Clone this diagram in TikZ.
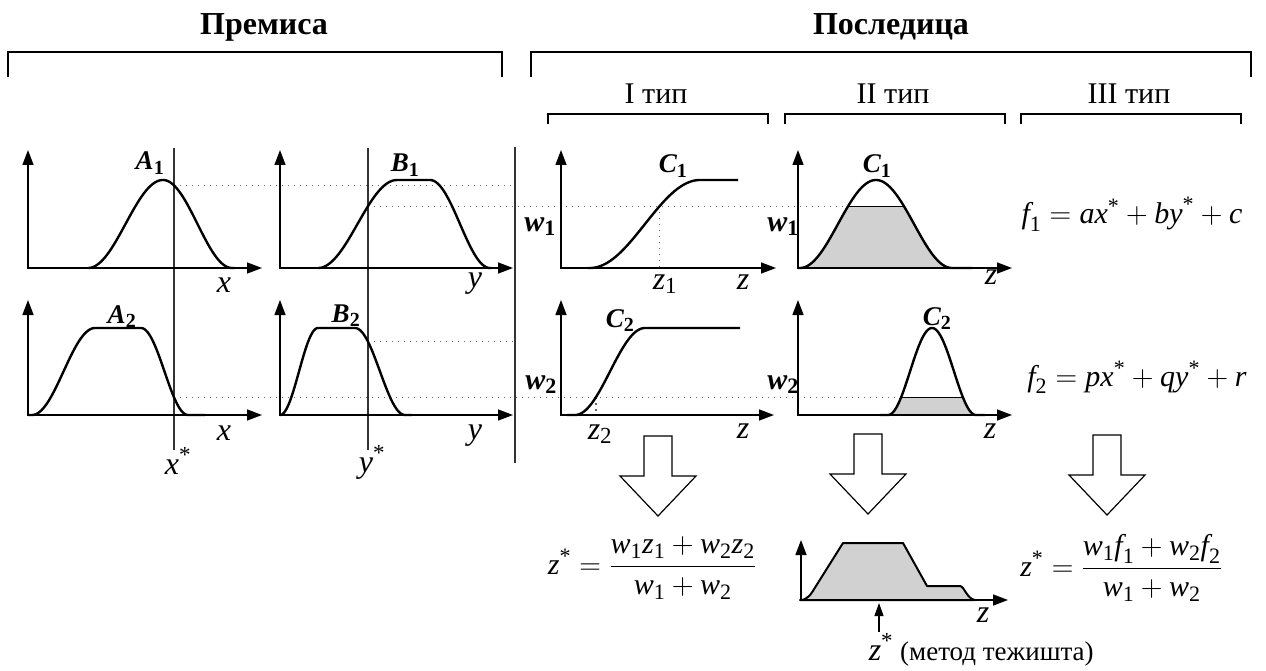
\RequirePackage{fix-cm}
\documentclass[tikz,border=0pt]{standalone}
\usepackage{amsmath}
\usepackage{fontspec}
\setmainfont{Liberation Serif}
\usetikzlibrary{arrows.meta}
\DeclareMathSizes{27}{27}{20}{15}
\DeclareMathSizes{30}{30}{22}{16}
\DeclareMathSizes{32}{32}{23}{17}
\newcommand\iv[1]{\text{\itshape #1}}
\newcommand\bv[1]{\text{\bfseries\itshape #1}}
\newcommand\bs[1]{\text{\bfseries #1}}
\newcommand\st{^{\text{*}}}
\begin{document}
\begin{tikzpicture}[x=1pt,y=-1pt,
  declare function={S(\zz)=(1-cos(180*min(1,max(0,\zz))))/2;
    T(\zz,\pa,\pb,\pc,\pd)=S((\zz-\pa)/(\pb-\pa))*S((\pd-\zz)/(\pd-\pc));},
  ax/.style={line width=1.4pt,{Triangle[length=15pt,width=11pt]}-{Triangle[length=15pt,width=11pt]}},
  crv/.style={line width=2.4pt,line join=round},
  dots/.style={line width=1.3pt,black!60,dash pattern=on 1.3pt off 4.7pt},
  vline/.style={line width=1.2pt,black!80},
  brk/.style={line width=1.3pt},
  shade/.style={fill=black!18},
  title/.style={font=\fontsize{32}{36}\selectfont\bfseries,inner sep=0pt,anchor=base},
  typ/.style={font=\fontsize{30}{34}\selectfont,inner sep=0pt,anchor=base},
  lab/.style={font=\fontsize{27}{31}\selectfont,inner sep=0pt,anchor=base},
  wlab/.style={font=\fontsize{30}{34}\selectfont,inner sep=0pt,anchor=base},
  axl/.style={font=\fontsize{32}{36}\selectfont,inner sep=0pt,anchor=base},
  frm/.style={font=\fontsize{30}{34}\selectfont,inner sep=0pt},
  harrow/.pic={\draw[line width=1.2pt,fill=white] (-14,0) -- (14,0) -- (14,40) -- (38,40) -- (0,80) -- (-38,40) -- (-14,40) -- cycle;}
]
\useasboundingbox (0,0) rectangle (1266,671);
\fill[white] (0,0) rectangle (1266,671);
% computed levels
\pgfmathsetmacro\fAa{T(174,88,163,163,232)}
\pgfmathsetmacro\fBa{T(368,318,397,430,490)}
\pgfmathsetmacro\fAb{T(174,32,95,141,188)}
\pgfmathsetmacro\fBb{T(368,280,318,355,405)}
\pgfmathsetmacro\yAa{268-88*\fAa}
\pgfmathsetmacro\yBa{268-88*\fBa}
\pgfmathsetmacro\yAb{415-87*\fAb}
\pgfmathsetmacro\yBb{415-87*\fBb}
\pgfmathsetmacro\ta{acos(1-2*\fBa)/180}
\pgfmathsetmacro\zA{590+110*\ta}
\pgfmathsetmacro\cL{800+76*\ta}
\pgfmathsetmacro\cR{952-76*\ta}
\pgfmathsetmacro\tb{acos(1-2*\fAb)/180}
\pgfmathsetmacro\zB{575+70*\tb}
\pgfmathsetmacro\dL{888+44*\tb}
\pgfmathsetmacro\dR{976-44*\tb}

% titles and brackets
\node[title] (prem) at (264,35) {Премиса};
\node[title] (posl) at (891,35) {Последица};
\draw[brk] (8,77) -- (8,52) -- (502,52) -- (502,77);
\draw[brk] (531,77) -- (531,52) -- (1251,52) -- (1251,77);
\node[typ] (t1) at (656,104) {I тип};
\node[typ] (t2) at (893,104) {II тип};
\node[typ] (t3) at (1129,104) {III тип};
\draw[brk] (548,124) -- (548,114) -- (768,114) -- (768,124);
\draw[brk] (785,124) -- (785,114) -- (1005,114) -- (1005,124);
\draw[brk] (1021,124) -- (1021,114) -- (1241,114) -- (1241,124);

% shaded areas
\fill[shade] plot[domain=800:952,samples=120] (\x,{268-88*min(\fBa,T(\x,800,876,876,952))}) -- cycle;
\fill[shade] plot[domain=888:976,samples=100] (\x,{415-87*min(\fAb,T(\x,888,932,932,976))}) -- cycle;
\path[shade,draw,line width=2pt,line join=round] (800,600) .. controls (808,600) and (811,594) .. (816,586) -- (843,543) -- (903,543) -- (927,586) -- (960,586) .. controls (964,586) and (967,599) .. (975,600) -- cycle;

% vertical lines
\draw[vline] (174,148) -- (174,450);
\draw[vline] (368,148) -- (368,450);
\draw[vline] (515,147) -- (515,463);

% dotted lines
\draw[dots] (174,\yAa) -- (515,\yAa);
\draw[dots] (368,\yBa) -- (\cL,\yBa);
\draw[dots] (\zA,\yBa) -- (\zA,268);
\draw[dots] (368,\yBb) -- (515,\yBb);
\draw[dots] (174,\yAb) -- (\dL,\yAb);
\draw[dots] (\zB,\yAb) -- (\zB,415);
\draw[line width=1.3pt] (\cL,\yBa) -- (\cR,\yBa);
\draw[line width=1.3pt] (\dL,\yAb) -- (\dR,\yAb);

% axes
\draw[ax] (28,150) -- (28,268) -- (262,268);
\draw[ax] (280,150) -- (280,268) -- (513,268);
\draw[ax] (561,150) -- (561,268) -- (776,268);
\draw[ax] (798,150) -- (798,268) -- (1012,268);
\draw[ax] (28,300) -- (28,415) -- (262,415);
\draw[ax] (280,300) -- (280,415) -- (513,415);
\draw[ax] (561,300) -- (561,415) -- (774,415);
\draw[ax] (798,300) -- (798,415) -- (1012,415);
\draw[ax] (801,540) -- (801,600) -- (1008,600);

% curves
\draw[crv] plot[domain=88:235,samples=120] (\x,{268-88*T(\x,88,163,163,232)});
\draw[crv] plot[domain=318:492,samples=120] (\x,{268-88*T(\x,318,397,430,490)});
\draw[crv] plot[domain=588:738,samples=120] (\x,{268-88*S((\x-590)/110)});
\draw[crv] plot[domain=798:972,samples=120] (\x,{268-88*T(\x,800,876,876,952)});
\draw[crv] plot[domain=28:205,samples=120] (\x,{415-87*T(\x,32,95,141,188)});
\draw[crv] plot[domain=280:412,samples=120] (\x,{415-87*T(\x,280,318,355,405)});
\draw[crv] plot[domain=567:740,samples=120] (\x,{415-87*S((\x-575)/70)});
\draw[crv] plot[domain=880:985,samples=120] (\x,{415-87*T(\x,888,932,932,976)});

% plot labels
\node[lab] (la1) at (150,170) {$\bv{A}_{\bs{1}}$};
\node[lab] (lb1) at (405,172) {$\bv{B}_{\bs{1}}$};
\node[lab] (la2) at (122,323) {$\bv{A}_{\bs{2}}$};
\node[lab] (lb2) at (346,322) {$\bv{B}_{\bs{2}}$};
\node[lab] (lc1a) at (673,173) {$\bv{C}_{\bs{1}}$};
\node[lab] (lc1b) at (877,173) {$\bv{C}_{\bs{1}}$};
\node[lab] (lc2a) at (620,327) {$\bv{C}_{\bs{2}}$};
\node[lab] (lc2b) at (937,325) {$\bv{C}_{\bs{2}}$};
\node[wlab] (lw1a) at (540,231) {$\bv{w}_{\bs{1}}$};
\node[wlab] (lw1b) at (783,231) {$\bv{w}_{\bs{1}}$};
\node[wlab] (lw2a) at (541,389) {$\bv{w}_{\bs{2}}$};
\node[wlab] (lw2b) at (783,389) {$\bv{w}_{\bs{2}}$};
\node[axl] (lx1) at (224,292) {$\iv{x}$};
\node[axl] (lx2) at (224,440) {$\iv{x}$};
\node[axl] (ly1) at (475,287) {$\iv{y}$};
\node[axl] (ly2) at (475,439) {$\iv{y}$};
\node[axl] (lxs) at (178,474) {$\iv{x}\st$};
\node[axl] (lys) at (372,472) {$\iv{y}\st$};
\node[axl] (lz1) at (665,289) {$\iv{z}_{\text{1}}$};
\node[axl] (lz2) at (600,439) {$\iv{z}_{\text{2}}$};
\node[axl] (lza) at (743,289) {$\iv{z}$};
\node[axl] (lzb) at (991,284) {$\iv{z}$};
\node[axl] (lzc) at (743,438) {$\iv{z}$};
\node[axl] (lzd) at (990,438) {$\iv{z}$};
\node[axl] (lze) at (983,622) {$\iv{z}$};

% formulas
\node[frm,anchor=base] (f1) at (1132,224) {$\iv{f}_{\text{1}} = \iv{ax}\st + \iv{by}\st + \iv{c}$};
\node[frm,anchor=base] (f2) at (1137,386) {$\iv{f}_{\text{2}} = \iv{px}\st + \iv{qy}\st + \iv{r}$};

% block arrows
\pic at (658,436) {harrow};
\pic at (868,434) {harrow};
\pic at (1107,435) {harrow};

% results
\node[frm] (r1) at (652,568) {$\iv{z}\st = \dfrac{\iv{w}_{\text{1}}\iv{z}_{\text{1}} + \iv{w}_{\text{2}}\iv{z}_{\text{2}}}{\iv{w}_{\text{1}} + \iv{w}_{\text{2}}}$};
\node[frm] (r3) at (1121,568) {$\iv{z}\st = \dfrac{\iv{w}_{\text{1}}\iv{f}_{\text{1}} + \iv{w}_{\text{2}}\iv{f}_{\text{2}}}{\iv{w}_{\text{1}} + \iv{w}_{\text{2}}}$};
\coordinate (zs) at (879,603);
\node[axl] (lzs) at (881,660) {$\iv{z}\st$};
\node[font=\fontsize{27}{31}\selectfont,inner sep=0pt,anchor=base west] (met) at (900,660) {(метод тежишта)};
\draw[line width=1.2pt,-{Triangle[length=13pt,width=9pt]}] (879,632) -- (zs);
\end{tikzpicture}
\end{document}
